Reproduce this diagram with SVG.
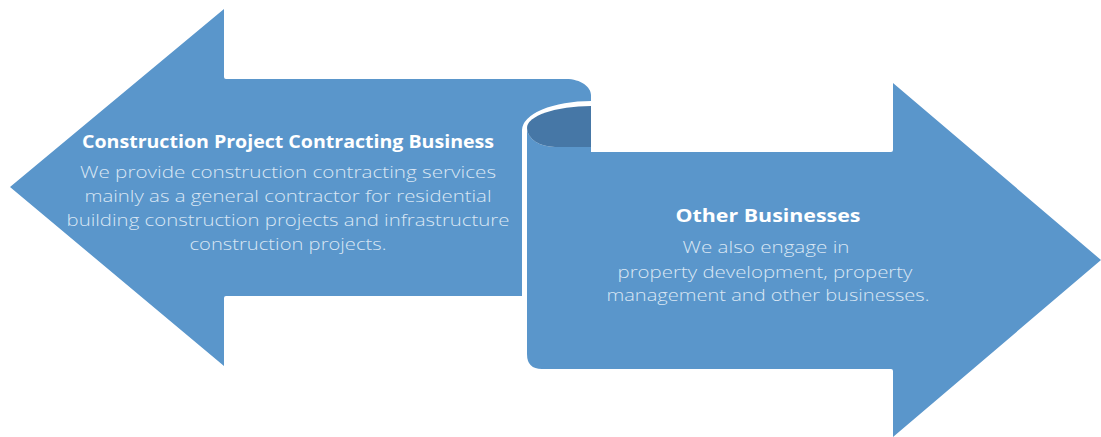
<svg xmlns="http://www.w3.org/2000/svg" width="1101" height="437" viewBox="0 0 1101 437">
<style>
.arrow{fill:#5a96cb}
.curl{fill:#4677a6}
.title{font-family:"Open Sans","Liberation Sans",sans-serif;font-weight:700;font-size:18px;fill:#ffffff;text-anchor:middle}
.body{font-family:"Open Sans","Liberation Sans",sans-serif;font-weight:300;font-size:17px;fill:#d9e6f4;text-anchor:middle}
</style>
<rect width="1101" height="437" fill="#ffffff"/>
<g id="node-construction">
<path class="arrow" d="M10,187 L224,9 L224,77 Q224,79 226,79 L566,79 C581,79 591,87 591,95 L591,101 A69,29 0 0 0 522,130 L522,296 L226,296 Q224,296 224,298 L224,366 Z"/>
<text class="title" x="288" y="148" textLength="412" lengthAdjust="spacingAndGlyphs">Construction Project Contracting Business</text>
<text class="body" x="288" y="178" textLength="416" lengthAdjust="spacingAndGlyphs">We provide construction contracting services</text>
<text class="body" x="288" y="202" textLength="407" lengthAdjust="spacingAndGlyphs">mainly as a general contractor for residential</text>
<text class="body" x="288" y="226" textLength="443" lengthAdjust="spacingAndGlyphs">building construction projects and infrastructure</text>
<text class="body" x="288" y="250" textLength="197" lengthAdjust="spacingAndGlyphs">construction projects.</text>
</g>
<g id="node-other">
<path class="arrow" d="M527,128 A28,19 0 0 0 555,147 L591,147 L591,152 L891,152 Q893,152 893,150 L893,83 L1101,260 L893,437 L893,371 Q893,369 891,369 L542,369 Q527,369 527,354 Z"/>
<path class="curl" d="M591,106 A64,22 0 0 0 527,128 A28,19 0 0 0 555,147 L591,147 Z"/>
<text class="title" x="768" y="222" textLength="185" lengthAdjust="spacingAndGlyphs">Other Businesses</text>
<text class="body" x="766" y="253" textLength="167" lengthAdjust="spacingAndGlyphs">We also engage in</text>
<text class="body" x="765" y="278" textLength="295" lengthAdjust="spacingAndGlyphs">property development, property</text>
<text class="body" x="768" y="301" textLength="323" lengthAdjust="spacingAndGlyphs">management and other businesses.</text>
</g>
<g id="connectors"></g>
</svg>
